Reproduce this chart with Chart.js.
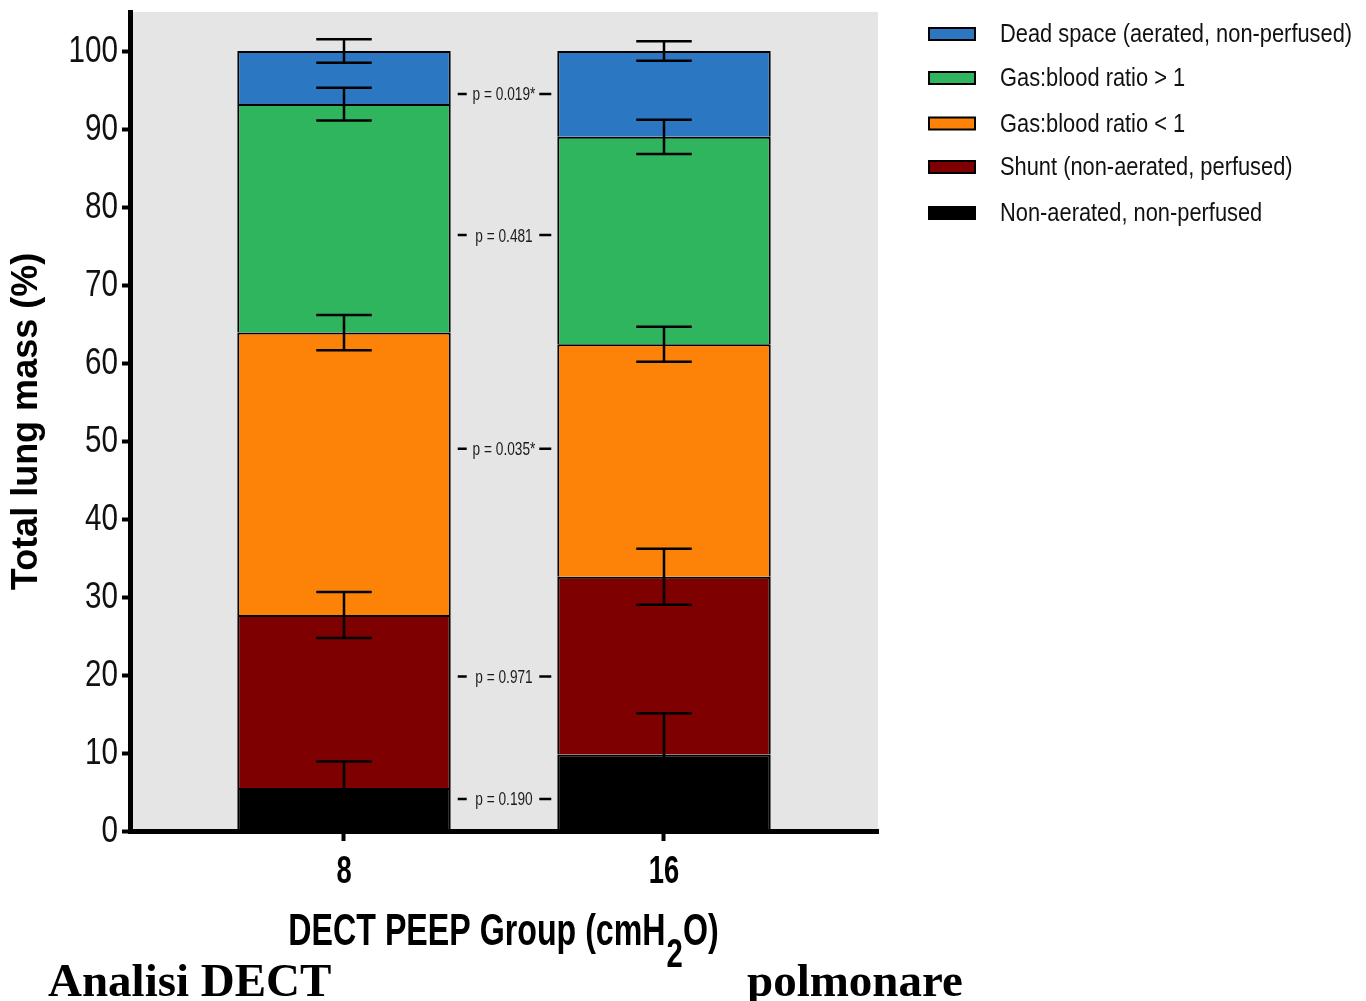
<!DOCTYPE html>
<html>
<head>
<meta charset="utf-8">
<title>Total lung mass by DECT PEEP group</title>
<script src="https://cdn.jsdelivr.net/npm/chart.js@4.4.1/dist/chart.umd.min.js"></script>
<style>
  html, body { margin: 0; padding: 0; background: #ffffff; }
  #wrap { width: 1366px; height: 1001px; position: relative; overflow: hidden; }
</style>
</head>
<body>
<div id="wrap"><canvas id="chart" width="1366" height="1001"></canvas></div>
<script>
// PEEP groups (cmH2O)
const peepGroups = [8, 16];

// Mean share of total lung mass (%) per compartment, stacked bottom to top
const nonAeratedNonPerfused = [5.5, 9.8];
const shunt = [22.2, 22.8];
const gasBloodBelow1 = [36.2, 29.8];
const gasBloodAbove1 = [29.3, 26.6];
const deadSpace = [6.8, 11.0];

// Standard deviations, drawn at the top of each segment
const sdNonAerated = [3.4, 5.3];
const sdShunt = [2.95, 3.6];
const sdGasBelow1 = [2.25, 2.25];
const sdGasAbove1 = [2.1, 2.2];
const sdDeadSpace = [1.5, 1.25];

// Between-group comparisons and the level (%) at which each is printed
const pValueTexts = ['p = 0.190', 'p = 0.971', 'p = 0.035*', 'p = 0.481', 'p = 0.019*'];
const pValueLevels = [4.1, 19.8, 49.0, 76.4, 94.5];

const yTickValues = [0, 10, 20, 30, 40, 50, 60, 70, 80, 90, 100];

const seriesLabels = [
  'Non-aerated, non-perfused',
  'Shunt (non-aerated, perfused)',
  'Gas:blood ratio < 1',
  'Gas:blood ratio > 1',
  'Dead space (aerated, non-perfused)'
];
const seriesColors = ['#000000', '#7f0000', '#fd8208', '#2eb55e', '#2b77c1'];
const seriesValues = [nonAeratedNonPerfused, shunt, gasBloodBelow1, gasBloodAbove1, deadSpace];
const seriesSd = [sdNonAerated, sdShunt, sdGasBelow1, sdGasAbove1, sdDeadSpace];

const SANS = "'Liberation Sans', Arial, sans-serif";
const SERIF = "'Liberation Serif', 'Times New Roman', serif";

// Condensed lettering: Liberation Sans squeezed horizontally
function condensedText(ctx, text, x, y, font, sx, align, baseline) {
  ctx.save();
  ctx.font = font;
  ctx.textAlign = 'left';
  ctx.textBaseline = baseline || 'alphabetic';
  const w = ctx.measureText(text).width * sx;
  const left = align === 'center' ? x - w / 2 : align === 'right' ? x - w : x;
  ctx.translate(left, y);
  ctx.scale(sx, 1);
  ctx.fillText(text, 0, 0);
  ctx.restore();
  return w;
}

const datasets = seriesValues.map((vals, k) => ({
  label: seriesLabels[k],
  data: peepGroups.map((g, i) => ({ x: g, y: vals[i] })),
  sd: seriesSd[k],
  backgroundColor: seriesColors[k],
  borderColor: '#000000',
  borderWidth: 2,
  borderSkipped: 'start',
  inflateAmount: 0,
  barPercentage: 0.667,
  categoryPercentage: 1.0
}));

// Grey panel behind the bars
const panelBackground = {
  id: 'panelBackground',
  beforeDraw(chart) {
    const { ctx, chartArea: a } = chart;
    ctx.save();
    ctx.fillStyle = '#e5e5e5';
    ctx.fillRect(a.left, a.top, a.right - a.left, a.bottom - a.top);
    ctx.restore();
  }
};

// Tick labels in condensed lettering, placed from the scales' own ticks
const tickLabels = {
  id: 'tickLabels',
  afterDraw(chart) {
    const { ctx } = chart;
    const y = chart.scales.y, x = chart.scales.x;
    ctx.save();
    ctx.fillStyle = '#111111';
    y.ticks.forEach(t => {
      const py = y.getPixelForValue(t.value);
      condensedText(ctx, String(t.value), y.right - 12, py + 1, '37px ' + SANS, 0.8, 'right', 'middle');
    });
    ctx.fillStyle = '#000000';
    x.ticks.forEach(t => {
      const px = x.getPixelForValue(t.value);
      condensedText(ctx, String(t.value), px, x.top + 52, 'bold 38px ' + SANS, 0.72, 'center', 'alphabetic');
    });
    ctx.restore();
  }
};

// Mean +/- SD whiskers at the top of every stacked segment
const errorBars = {
  id: 'errorBars',
  afterDatasetsDraw(chart) {
    const { ctx } = chart;
    const y = chart.scales.y;
    const cumulative = peepGroups.map(() => 0);
    ctx.save();
    ctx.strokeStyle = '#000000';
    ctx.lineWidth = 2.5;
    chart.data.datasets.forEach((ds, di) => {
      const meta = chart.getDatasetMeta(di);
      ds.data.forEach((pt, i) => {
        cumulative[i] += pt.y;
        const bar = meta.data[i];
        const half = bar.width * 0.13;
        const yHi = y.getPixelForValue(cumulative[i] + ds.sd[i]);
        const yLo = y.getPixelForValue(cumulative[i] - ds.sd[i]);
        ctx.beginPath();
        ctx.moveTo(bar.x, yHi); ctx.lineTo(bar.x, yLo);
        ctx.moveTo(bar.x - half, yHi); ctx.lineTo(bar.x + half, yHi);
        ctx.moveTo(bar.x - half, yLo); ctx.lineTo(bar.x + half, yLo);
        ctx.stroke();
      });
    });
    ctx.restore();
  }
};

// p-values printed in the gap between the two bars
const pValueLabels = {
  id: 'pValueLabels',
  afterDatasetsDraw(chart) {
    const { ctx } = chart;
    const y = chart.scales.y;
    const meta = chart.getDatasetMeta(0);
    const b0 = meta.data[0], b1 = meta.data[1];
    const gapL = b0.x + b0.width / 2;
    const gapR = b1.x - b1.width / 2;
    const cx = (gapL + gapR) / 2;
    ctx.save();
    ctx.fillStyle = '#1a1a1a';
    ctx.strokeStyle = '#000000';
    ctx.lineWidth = 2.5;
    pValueTexts.forEach((t, i) => {
      const py = y.getPixelForValue(pValueLevels[i]);
      condensedText(ctx, t, cx, py + 1.5, '18px ' + SANS, 0.76, 'center', 'middle');
      ctx.beginPath();
      ctx.moveTo(gapL + 7, py); ctx.lineTo(gapL + 16, py);
      ctx.moveTo(gapR - 18, py); ctx.lineTo(gapR - 6, py);
      ctx.stroke();
    });
    ctx.restore();
  }
};

// Legend column on the right, top compartment first
const sideLegend = {
  id: 'sideLegend',
  afterDraw(chart) {
    const { ctx } = chart;
    const rows = [34, 78, 123.5, 167, 213];
    const order = chart.data.datasets.map((d, i) => i).reverse();
    ctx.save();
    order.forEach((di, r) => {
      const ds = chart.data.datasets[di];
      const cy = rows[r];
      ctx.fillStyle = ds.backgroundColor;
      ctx.fillRect(929, cy - 6, 46, 12);
      ctx.strokeStyle = '#000000';
      ctx.lineWidth = 2;
      ctx.strokeRect(929, cy - 6, 46, 12);
      ctx.fillStyle = '#111111';
      condensedText(ctx, ds.label, 1000, cy + 1, '26px ' + SANS, 0.84, 'left', 'middle');
    });
    ctx.restore();
  }
};

// x-axis title with subscript, and the caption line underneath
const bottomTexts = {
  id: 'bottomTexts',
  afterDraw(chart) {
    const { ctx } = chart;
    const a = chart.chartArea;
    const cx = (a.left + a.right) / 2 - 1;
    ctx.save();
    ctx.fillStyle = '#000000';
    const sx = 0.715;
    const main = 'DECT PEEP Group (cmH';
    const sub = '2';
    const tail = 'O)';
    const fMain = 'bold 45px ' + SANS;
    const fSub = 'bold 41px ' + SANS;
    ctx.font = fMain;
    const wMain = ctx.measureText(main).width * sx;
    const wTail = ctx.measureText(tail).width * sx;
    ctx.font = fSub;
    const wSub = ctx.measureText(sub).width * sx;
    let px = cx - (wMain + wSub + wTail) / 2;
    px += condensedText(ctx, main, px, 945, fMain, sx, 'left');
    px += condensedText(ctx, sub, px + 1, 967, fSub, sx, 'left') + 1;
    condensedText(ctx, tail, px, 945, fMain, sx, 'left');

    ctx.font = 'bold 47px ' + SERIF;
    ctx.textAlign = 'left';
    ctx.textBaseline = 'alphabetic';
    ctx.fillText('Analisi DECT', 48, 996);
    ctx.fillText('polmonare', 747, 996);
    ctx.restore();
  }
};

new Chart(document.getElementById('chart'), {
  type: 'bar',
  data: { datasets },
  options: {
    responsive: false,
    animation: false,
    layout: { padding: { top: 12, right: 488, left: 0, bottom: 0 } },
    plugins: { legend: { display: false }, tooltip: { enabled: false } },
    scales: {
      x: {
        type: 'linear',
        stacked: true,
        offset: false,
        min: 2.65,
        max: 21.35,
        afterBuildTicks: s => { s.ticks = peepGroups.map(v => ({ value: v })); },
        afterFit: s => { s.height = 170; s.paddingLeft = 0; s.paddingRight = 0; },
        grid: { offset: false, drawOnChartArea: false, drawTicks: true, tickLength: 10, tickWidth: 4, tickColor: '#000000' },
        border: { display: true, color: '#000000', width: 5 },
        ticks: { display: false }
      },
      y: {
        stacked: true,
        min: 0,
        max: 105,
        afterBuildTicks: s => { s.ticks = yTickValues.map(v => ({ value: v })); },
        afterFit: s => { s.width = 130; s.paddingTop = 0; s.paddingBottom = 0; },
        grid: { drawOnChartArea: false, drawTicks: true, tickLength: 8, tickWidth: 4, tickColor: '#000000' },
        border: { display: true, color: '#000000', width: 5 },
        ticks: { display: false },
        title: {
          display: true,
          text: 'Total lung mass (%)',
          color: '#000000',
          font: { family: SANS, size: 36, weight: 'bold' },
          padding: { top: 5, bottom: 0 }
        }
      }
    }
  },
  plugins: [panelBackground, errorBars, pValueLabels, tickLabels, sideLegend, bottomTexts]
});
</script>
</body>
</html>
